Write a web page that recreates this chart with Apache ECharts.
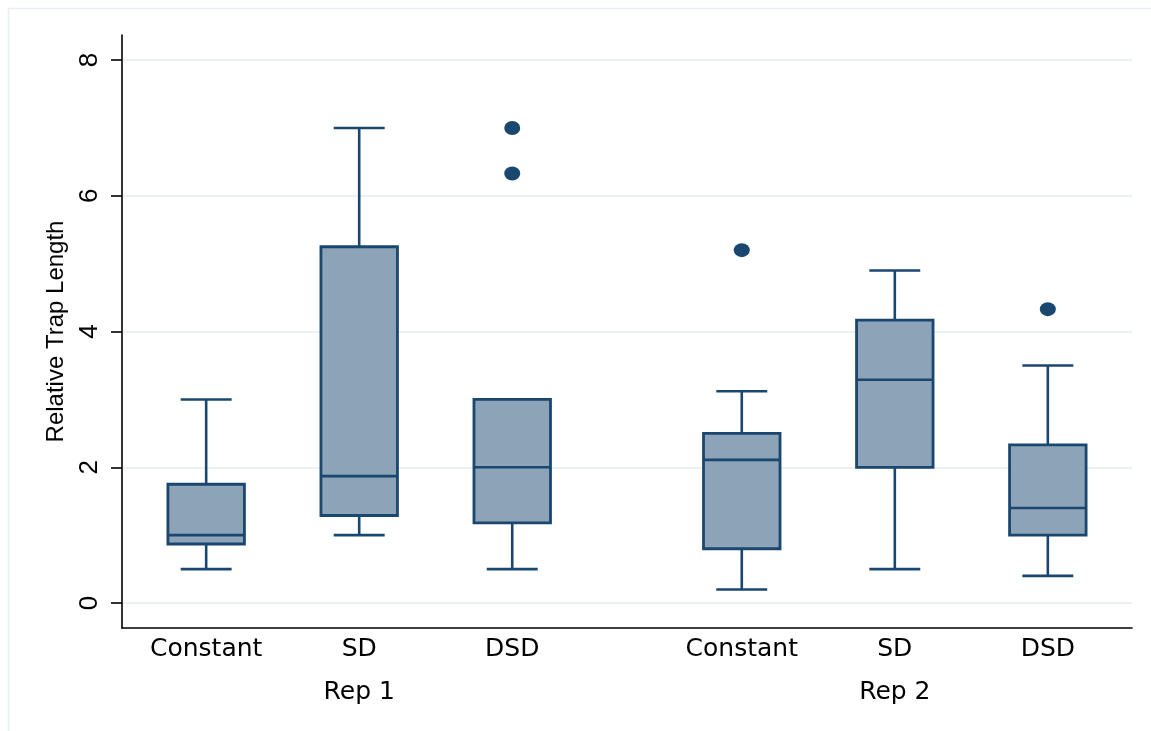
<!DOCTYPE html>
<html>
<head>
<meta charset="utf-8">
<script src="https://cdn.jsdelivr.net/npm/echarts@6/dist/echarts.min.js"></script>
<style>
html,body{margin:0;padding:0;background:#fff;}
#chart{width:1151px;height:731px;}
</style>
</head>
<body>
<div id="chart"></div>
<script>
// ---- data ----
var categories = ['Constant', 'SD', 'DSD'];
var groups = ['Rep 1', 'Rep 2'];
var whiskerLow  = [0.5, 1.0, 0.5, 0.2, 0.5, 0.4];
var q1          = [0.87, 1.29, 1.18, 0.80, 2.0, 1.0];
var median      = [1.0, 1.87, 2.0, 2.11, 3.29, 1.4];
var q3          = [1.75, 5.25, 3.0, 2.5, 4.17, 2.33];
var whiskerHigh = [3.0, 7.0, 3.0, 3.12, 4.9, 3.5];
// outliers: [box index, value]
var outliers = [[2, 7.0], [2, 6.33], [3, 5.2], [5, 4.33]];
var yTicks = [0, 2, 4, 6, 8];
var yTitle = 'Relative Trap Length';

// ---- layout helpers ----
var GROUP_STEP = 3.5;
function boxPos(i) { return Math.floor(i / categories.length) * GROUP_STEP + (i % categories.length); }
var catPositions = [], catLabels = {};
for (var i = 0; i < groups.length * categories.length; i++) {
  catPositions.push(boxPos(i));
  catLabels[boxPos(i)] = categories[i % categories.length];
}
var groupPositions = [], groupLabels = {};
for (var g = 0; g < groups.length; g++) {
  var p = g * GROUP_STEP + (categories.length - 1) / 2;
  groupPositions.push(p);
  groupLabels[p] = groups[g];
}
var boxData = whiskerLow.map(function (v, i) {
  return [boxPos(i), whiskerLow[i], q1[i], median[i], q3[i], whiskerHigh[i]];
});
var outlierData = outliers.map(function (o) { return [boxPos(o[0]), o[1]]; });

var NAVY = '#1A476F';
var FILL = '#8DA3B8';
var XMIN = -0.55, XMAX = 6.05;

var chart = echarts.init(document.getElementById('chart'), null, {renderer: 'canvas'});
chart.setOption({
  backgroundColor: '#ffffff',
  animation: false,
  graphic: [{
    type: 'rect', silent: true, z: -10,
    shape: {x: 8.5, y: 8.5, width: 1160, height: 740},
    style: {fill: 'none', stroke: '#E6EEF1', lineWidth: 1.5}
  }],
  grid: {left: 122, right: 19, top: 35, bottom: 103, containLabel: false},
  xAxis: [{
    type: 'value', min: XMIN, max: XMAX,
    axisLine: {show: true, onZero: false, lineStyle: {color: '#000', width: 1.6}},
    axisTick: {show: false},
    splitLine: {show: false},
    axisLabel: {
      show: true, customValues: catPositions, margin: 9,
      fontFamily: 'DejaVu Sans', fontSize: 25, color: '#000',
      formatter: function (v) { return catLabels[v] || ''; }
    }
  }, {
    type: 'value', min: XMIN, max: XMAX, position: 'bottom',
    axisLine: {show: false, onZero: false}, axisTick: {show: false}, splitLine: {show: false},
    axisLabel: {
      show: true, customValues: groupPositions, margin: 52,
      fontFamily: 'DejaVu Sans', fontSize: 25, color: '#000',
      formatter: function (v) { return groupLabels[v] || ''; }
    }
  }],
  yAxis: {
    type: 'value', min: -0.368, max: 8.37,
    name: yTitle, nameLocation: 'middle', nameRotate: 90, nameGap: 54,
    nameTextStyle: {fontFamily: 'Liberation Sans', fontSize: 24, color: '#000'},
    axisLine: {show: true, onZero: false, lineStyle: {color: '#000', width: 1.6}},
    axisTick: {show: true, customValues: yTicks, length: 11, lineStyle: {color: '#000', width: 1.6}},
    axisLabel: {
      show: true, customValues: yTicks, rotate: 90, margin: 19,
      fontFamily: 'Liberation Sans', fontSize: 26, color: '#000'
    },
    splitLine: {show: true, lineStyle: {color: '#EAF2F3', width: 2}}
  },
  series: [{
    type: 'custom',
    xAxisIndex: 0,
    data: boxData,
    z: 3,
    renderItem: function (params, api) {
      var x = api.value(0);
      var pLow = api.coord([x, api.value(1)]);
      var pQ1 = api.coord([x, api.value(2)]);
      var pMed = api.coord([x, api.value(3)]);
      var pQ3 = api.coord([x, api.value(4)]);
      var pHigh = api.coord([x, api.value(5)]);
      var boxW = api.size([0.5, 0])[0];
      var capW = api.size([0.333, 0])[0];
      var cx = pMed[0];
      var ls = {stroke: NAVY, lineWidth: 2.6, fill: null};
      return {
        type: 'group',
        children: [
          {type: 'line', shape: {x1: cx, y1: pLow[1], x2: cx, y2: pQ1[1]}, style: ls},
          {type: 'line', shape: {x1: cx, y1: pQ3[1], x2: cx, y2: pHigh[1]}, style: ls},
          {type: 'line', shape: {x1: cx - capW / 2, y1: pLow[1], x2: cx + capW / 2, y2: pLow[1]}, style: ls},
          {type: 'line', shape: {x1: cx - capW / 2, y1: pHigh[1], x2: cx + capW / 2, y2: pHigh[1]}, style: ls},
          {type: 'rect', shape: {x: cx - boxW / 2, y: pQ3[1], width: boxW, height: pQ1[1] - pQ3[1]},
           style: {fill: FILL, stroke: NAVY, lineWidth: 2.8}},
          {type: 'line', shape: {x1: cx - boxW / 2, y1: pMed[1], x2: cx + boxW / 2, y2: pMed[1]}, style: ls}
        ]
      };
    }
  }, {
    type: 'scatter',
    xAxisIndex: 0,
    data: outlierData,
    symbol: 'circle',
    symbolSize: [16, 14],
    itemStyle: {color: NAVY, opacity: 1},
    z: 4
  }]
});
</script>
</body>
</html>
